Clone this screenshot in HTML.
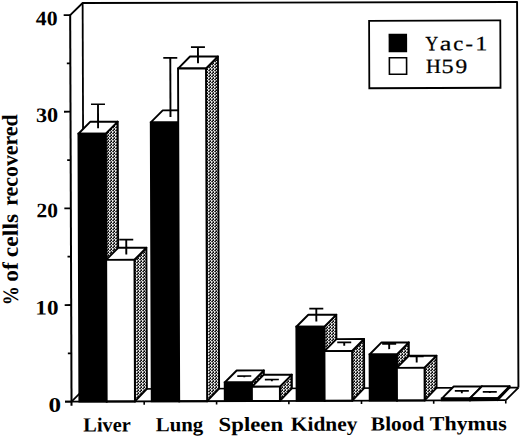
<!DOCTYPE html>
<html><head><meta charset="utf-8"><style>
html,body{margin:0;padding:0;background:#fff;}
svg{display:block;}
</style></head><body>
<svg width="520" height="437" viewBox="0 0 520 437">
<defs>
<pattern id="hatch" width="3" height="3" patternUnits="userSpaceOnUse" patternTransform="rotate(0.2 290 210)">
<rect x="0" y="0" width="1" height="1" fill="rgb(0,0,0)"/>
<rect x="1" y="0" width="1" height="1" fill="rgb(230,230,230)"/>
<rect x="2" y="0" width="1" height="1" fill="rgb(80,80,80)"/>
<rect x="0" y="1" width="1" height="1" fill="rgb(230,230,230)"/>
<rect x="1" y="1" width="1" height="1" fill="rgb(80,80,80)"/>
<rect x="2" y="1" width="1" height="1" fill="rgb(20,20,20)"/>
<rect x="0" y="2" width="1" height="1" fill="rgb(80,80,80)"/>
<rect x="1" y="2" width="1" height="1" fill="rgb(230,230,230)"/>
<rect x="2" y="2" width="1" height="1" fill="rgb(160,160,160)"/>
</pattern>
</defs>
<rect width="520" height="437" fill="#fff"/>
<g transform="rotate(-0.2 290 210)">
<path d="M70.85,14.30 L83.35,2.25 L517.80,2.80 L517.80,388.40" fill="none" stroke="#000" stroke-width="1.9" stroke-linejoin="round"/>
<line x1="83.35" y1="2.25" x2="83.35" y2="388.40" stroke="#000" stroke-width="1.8"/>
<line x1="83.35" y1="388.40" x2="517.80" y2="388.40" stroke="#000" stroke-width="1.6"/>
<line x1="70.85" y1="400.90" x2="83.35" y2="388.40" stroke="#000" stroke-width="1.8"/>
<line x1="505.10" y1="400.90" x2="517.80" y2="388.40" stroke="#000" stroke-width="1.8"/>
<path d="M106.02,133.00 L118.02,121.00 L118.02,388.40 L106.02,400.90 Z" fill="url(#hatch)" stroke="#000" stroke-width="1.9" stroke-linejoin="round"/>
<path d="M78.71,133.00 L90.71,121.00 L118.02,121.00 L106.02,133.00 Z" fill="#fff" stroke="#000" stroke-width="1.9" stroke-linejoin="round"/>
<rect x="78.71" y="133.00" width="27.31" height="267.90" fill="#000" stroke="#000" stroke-width="1.9"/>
<line x1="98.36" y1="103.58" x2="98.36" y2="127.70" stroke="#000" stroke-width="1.9"/>
<line x1="91.36" y1="103.58" x2="105.36" y2="103.58" stroke="#000" stroke-width="1.7"/>
<path d="M134.27,259.20 L146.27,247.20 L146.27,388.40 L134.27,400.90 Z" fill="url(#hatch)" stroke="#000" stroke-width="1.9" stroke-linejoin="round"/>
<path d="M106.02,259.20 L118.02,247.20 L146.27,247.20 L134.27,259.20 Z" fill="#fff" stroke="#000" stroke-width="1.9" stroke-linejoin="round"/>
<rect x="106.02" y="259.20" width="28.25" height="141.70" fill="#fff" stroke="#000" stroke-width="1.9"/>
<line x1="126.15" y1="239.10" x2="126.15" y2="253.90" stroke="#000" stroke-width="1.9"/>
<line x1="119.15" y1="239.10" x2="133.15" y2="239.10" stroke="#000" stroke-width="1.7"/>
<path d="M178.54,121.96 L190.54,109.96 L190.54,388.40 L178.54,400.90 Z" fill="url(#hatch)" stroke="#000" stroke-width="1.9" stroke-linejoin="round"/>
<path d="M151.08,121.96 L163.08,109.96 L190.54,109.96 L178.54,121.96 Z" fill="#fff" stroke="#000" stroke-width="1.9" stroke-linejoin="round"/>
<rect x="151.08" y="121.96" width="27.46" height="278.94" fill="#000" stroke="#000" stroke-width="1.9"/>
<line x1="170.81" y1="57.48" x2="170.81" y2="116.66" stroke="#000" stroke-width="1.9"/>
<line x1="163.81" y1="57.48" x2="177.81" y2="57.48" stroke="#000" stroke-width="1.7"/>
<path d="M206.48,68.16 L218.48,56.16 L218.48,388.40 L206.48,400.90 Z" fill="url(#hatch)" stroke="#000" stroke-width="1.9" stroke-linejoin="round"/>
<path d="M178.54,68.16 L190.54,56.16 L218.48,56.16 L206.48,68.16 Z" fill="#fff" stroke="#000" stroke-width="1.9" stroke-linejoin="round"/>
<rect x="178.54" y="68.16" width="27.94" height="332.74" fill="#fff" stroke="#000" stroke-width="1.9"/>
<line x1="198.51" y1="46.88" x2="198.51" y2="62.86" stroke="#000" stroke-width="1.9"/>
<line x1="191.51" y1="46.88" x2="205.51" y2="46.88" stroke="#000" stroke-width="1.7"/>
<path d="M251.28,382.27 L263.28,370.27 L263.28,388.40 L251.28,400.90 Z" fill="url(#hatch)" stroke="#000" stroke-width="1.9" stroke-linejoin="round"/>
<path d="M224.11,382.27 L236.11,370.27 L263.28,370.27 L251.28,382.27 Z" fill="#fff" stroke="#000" stroke-width="1.9" stroke-linejoin="round"/>
<rect x="224.11" y="382.27" width="27.17" height="18.63" fill="#000" stroke="#000" stroke-width="1.9"/>
<line x1="243.69" y1="375.84" x2="243.69" y2="376.97" stroke="#000" stroke-width="1.9"/>
<line x1="236.69" y1="375.84" x2="250.69" y2="375.84" stroke="#000" stroke-width="1.7"/>
<path d="M279.26,386.60 L291.26,374.60 L291.26,388.40 L279.26,400.90 Z" fill="url(#hatch)" stroke="#000" stroke-width="1.9" stroke-linejoin="round"/>
<path d="M251.28,386.60 L263.28,374.60 L291.26,374.60 L279.26,386.60 Z" fill="#fff" stroke="#000" stroke-width="1.9" stroke-linejoin="round"/>
<rect x="251.28" y="386.60" width="27.98" height="14.30" fill="#fff" stroke="#000" stroke-width="1.9"/>
<line x1="271.27" y1="379.44" x2="271.27" y2="381.30" stroke="#000" stroke-width="1.9"/>
<line x1="264.27" y1="379.44" x2="278.27" y2="379.44" stroke="#000" stroke-width="1.7"/>
<path d="M323.96,326.80 L335.96,314.80 L335.96,388.40 L323.96,400.90 Z" fill="url(#hatch)" stroke="#000" stroke-width="1.9" stroke-linejoin="round"/>
<path d="M295.95,326.80 L307.95,314.80 L335.96,314.80 L323.96,326.80 Z" fill="#fff" stroke="#000" stroke-width="1.9" stroke-linejoin="round"/>
<rect x="295.95" y="326.80" width="28.01" height="74.10" fill="#000" stroke="#000" stroke-width="1.9"/>
<line x1="315.95" y1="308.69" x2="315.95" y2="321.50" stroke="#000" stroke-width="1.9"/>
<line x1="308.95" y1="308.69" x2="322.95" y2="308.69" stroke="#000" stroke-width="1.7"/>
<path d="M351.59,351.25 L363.59,339.25 L363.59,388.40 L351.59,400.90 Z" fill="url(#hatch)" stroke="#000" stroke-width="1.9" stroke-linejoin="round"/>
<path d="M323.96,351.25 L335.96,339.25 L363.59,339.25 L351.59,351.25 Z" fill="#fff" stroke="#000" stroke-width="1.9" stroke-linejoin="round"/>
<rect x="323.96" y="351.25" width="27.63" height="49.65" fill="#fff" stroke="#000" stroke-width="1.9"/>
<line x1="343.77" y1="342.59" x2="343.77" y2="345.95" stroke="#000" stroke-width="1.9"/>
<line x1="336.77" y1="342.59" x2="350.77" y2="342.59" stroke="#000" stroke-width="1.7"/>
<path d="M396.34,354.77 L408.34,342.77 L408.34,388.40 L396.34,400.90 Z" fill="url(#hatch)" stroke="#000" stroke-width="1.9" stroke-linejoin="round"/>
<path d="M369.06,354.77 L381.06,342.77 L408.34,342.77 L396.34,354.77 Z" fill="#fff" stroke="#000" stroke-width="1.9" stroke-linejoin="round"/>
<rect x="369.06" y="354.77" width="27.28" height="46.13" fill="#000" stroke="#000" stroke-width="1.9"/>
<line x1="388.70" y1="344.15" x2="388.70" y2="349.47" stroke="#000" stroke-width="1.9"/>
<line x1="381.70" y1="344.15" x2="395.70" y2="344.15" stroke="#000" stroke-width="1.7"/>
<path d="M423.97,368.20 L435.97,356.20 L435.97,388.40 L423.97,400.90 Z" fill="url(#hatch)" stroke="#000" stroke-width="1.9" stroke-linejoin="round"/>
<path d="M396.34,368.20 L408.34,356.20 L435.97,356.20 L423.97,368.20 Z" fill="#fff" stroke="#000" stroke-width="1.9" stroke-linejoin="round"/>
<rect x="396.34" y="368.20" width="27.63" height="32.70" fill="#fff" stroke="#000" stroke-width="1.9"/>
<line x1="416.15" y1="356.94" x2="416.15" y2="362.90" stroke="#000" stroke-width="1.9"/>
<line x1="409.15" y1="356.94" x2="423.15" y2="356.94" stroke="#000" stroke-width="1.7"/>
<path d="M469.30,399.10 L481.30,387.10 L481.30,388.40 L469.30,400.90 Z" fill="url(#hatch)" stroke="#000" stroke-width="1.9" stroke-linejoin="round"/>
<path d="M441.09,399.10 L453.09,387.10 L481.30,387.10 L469.30,399.10 Z" fill="#fff" stroke="#000" stroke-width="1.9" stroke-linejoin="round"/>
<rect x="441.09" y="399.10" width="28.21" height="1.80" fill="#000" stroke="#000" stroke-width="1.9"/>
<line x1="461.19" y1="391.40" x2="461.19" y2="393.80" stroke="#000" stroke-width="1.9"/>
<line x1="454.19" y1="391.40" x2="468.19" y2="391.40" stroke="#000" stroke-width="1.7"/>
<path d="M497.00,398.90 L509.00,386.90 L509.00,388.40 L497.00,400.90 Z" fill="url(#hatch)" stroke="#000" stroke-width="1.9" stroke-linejoin="round"/>
<path d="M469.30,398.90 L481.30,386.90 L509.00,386.90 L497.00,398.90 Z" fill="#fff" stroke="#000" stroke-width="1.9" stroke-linejoin="round"/>
<rect x="469.30" y="398.90" width="27.70" height="2.00" fill="#fff" stroke="#000" stroke-width="1.9"/>
<line x1="489.15" y1="392.60" x2="489.15" y2="393.60" stroke="#000" stroke-width="1.9"/>
<line x1="482.15" y1="392.60" x2="496.15" y2="392.60" stroke="#000" stroke-width="1.7"/>
<line x1="70.85" y1="13.75" x2="70.85" y2="404.90" stroke="#000" stroke-width="2"/>
<line x1="64.35" y1="400.90" x2="505.10" y2="400.90" stroke="#000" stroke-width="1.8"/>
<line x1="143.53" y1="400.90" x2="143.53" y2="404.20" stroke="#000" stroke-width="1.6"/>
<line x1="215.93" y1="400.90" x2="215.93" y2="404.20" stroke="#000" stroke-width="1.6"/>
<line x1="288.20" y1="400.90" x2="288.20" y2="404.20" stroke="#000" stroke-width="1.6"/>
<line x1="360.83" y1="400.90" x2="360.83" y2="404.20" stroke="#000" stroke-width="1.6"/>
<line x1="433.03" y1="400.90" x2="433.03" y2="404.20" stroke="#000" stroke-width="1.6"/>
<line x1="505.10" y1="400.90" x2="505.10" y2="404.20" stroke="#000" stroke-width="1.6"/>
<line x1="64.35" y1="400.90" x2="70.85" y2="400.90" stroke="#000" stroke-width="1.8"/>
<line x1="67.35" y1="352.57" x2="70.85" y2="352.57" stroke="#000" stroke-width="1.8"/>
<line x1="64.35" y1="304.25" x2="70.85" y2="304.25" stroke="#000" stroke-width="1.8"/>
<line x1="67.35" y1="255.92" x2="70.85" y2="255.92" stroke="#000" stroke-width="1.8"/>
<line x1="64.35" y1="207.60" x2="70.85" y2="207.60" stroke="#000" stroke-width="1.8"/>
<line x1="67.35" y1="159.28" x2="70.85" y2="159.28" stroke="#000" stroke-width="1.8"/>
<line x1="64.35" y1="110.95" x2="70.85" y2="110.95" stroke="#000" stroke-width="1.8"/>
<line x1="67.35" y1="62.62" x2="70.85" y2="62.62" stroke="#000" stroke-width="1.8"/>
<line x1="64.35" y1="14.30" x2="70.85" y2="14.30" stroke="#000" stroke-width="1.8"/>
<rect x="369.75" y="21.2" width="131.2" height="67.3" fill="#fff" stroke="#000" stroke-width="1.8"/>
<rect x="389.2" y="34.2" width="18.5" height="18.5" fill="#000"/>
<rect x="389.9" y="58.1" width="17.2" height="16.5" fill="#fff" stroke="#000" stroke-width="1.6"/>
<text x="36.50" y="24.40" style="font-family:&quot;Liberation Serif&quot;,serif;font-size:20.50px;font-weight:bold;" textLength="21.78" lengthAdjust="spacingAndGlyphs">40</text>
<text x="36.30" y="121.00" style="font-family:&quot;Liberation Serif&quot;,serif;font-size:20.50px;font-weight:bold;" textLength="22.27" lengthAdjust="spacingAndGlyphs">30</text>
<text x="36.50" y="216.30" style="font-family:&quot;Liberation Serif&quot;,serif;font-size:20.50px;font-weight:bold;" textLength="21.44" lengthAdjust="spacingAndGlyphs">20</text>
<text x="35.00" y="313.60" style="font-family:&quot;Liberation Serif&quot;,serif;font-size:20.50px;font-weight:bold;" textLength="23.19" lengthAdjust="spacingAndGlyphs">10</text>
<text x="47.80" y="410.80" style="font-family:&quot;Liberation Serif&quot;,serif;font-size:20.50px;font-weight:bold;" textLength="12.58" lengthAdjust="spacingAndGlyphs">0</text>
<text x="82.60" y="430.87" style="font-family:&quot;Liberation Serif&quot;,serif;font-size:20.00px;font-weight:bold;" textLength="47.37" lengthAdjust="spacingAndGlyphs">Liver</text>
<text x="155.00" y="430.87" style="font-family:&quot;Liberation Serif&quot;,serif;font-size:20.00px;font-weight:bold;" textLength="47.50" lengthAdjust="spacingAndGlyphs">Lung</text>
<text x="217.80" y="430.87" style="font-family:&quot;Liberation Serif&quot;,serif;font-size:20.00px;font-weight:bold;" textLength="64.50" lengthAdjust="spacingAndGlyphs">Spleen</text>
<text x="290.00" y="430.87" style="font-family:&quot;Liberation Serif&quot;,serif;font-size:20.00px;font-weight:bold;" textLength="66.67" lengthAdjust="spacingAndGlyphs">Kidney</text>
<text x="370.10" y="430.87" style="font-family:&quot;Liberation Serif&quot;,serif;font-size:20.00px;font-weight:bold;" textLength="53.53" lengthAdjust="spacingAndGlyphs">Blood</text>
<text x="429.00" y="430.87" style="font-family:&quot;Liberation Serif&quot;,serif;font-size:20.00px;font-weight:bold;" textLength="76.91" lengthAdjust="spacingAndGlyphs">Thymus</text>
<text transform="translate(426.06,50.79) scale(0.8695,1)" style="font-family:&quot;Liberation Serif&quot;,serif;font-size:20.30px;" stroke="#000" stroke-width="0.345">Y</text>
<text transform="translate(440.23,50.84) scale(1.2969,1)" style="font-family:&quot;Liberation Serif&quot;,serif;font-size:20.30px;" stroke="#000" stroke-width="0.231">a</text>
<text transform="translate(453.69,50.89) scale(1.1166,1)" style="font-family:&quot;Liberation Serif&quot;,serif;font-size:20.30px;" stroke="#000" stroke-width="0.269">c</text>
<text transform="translate(466.03,50.93) scale(1.0999,1)" style="font-family:&quot;Liberation Serif&quot;,serif;font-size:20.30px;" stroke="#000" stroke-width="0.273">-</text>
<text transform="translate(475.71,50.97) scale(1.2034,1)" style="font-family:&quot;Liberation Serif&quot;,serif;font-size:20.30px;" stroke="#000" stroke-width="0.249">1</text>
<text transform="translate(426.58,73.60) scale(1.0163,1)" style="font-family:&quot;Liberation Serif&quot;,serif;font-size:20.30px;" stroke="#000" stroke-width="0.295">H</text>
<text transform="translate(442.06,73.65) scale(1.1984,1)" style="font-family:&quot;Liberation Serif&quot;,serif;font-size:20.30px;" stroke="#000" stroke-width="0.250">5</text>
<text transform="translate(456.02,73.70) scale(1.1543,1)" style="font-family:&quot;Liberation Serif&quot;,serif;font-size:20.30px;" stroke="#000" stroke-width="0.260">9</text>
<text transform="translate(17.60,304.30) rotate(-90)" x="0" y="0" style="font-family:&quot;Liberation Serif&quot;,serif;font-size:22.00px;font-weight:bold;" textLength="19.02" lengthAdjust="spacingAndGlyphs">%</text>
<text transform="translate(17.60,280.70) rotate(-90)" x="0" y="0" style="font-family:&quot;Liberation Serif&quot;,serif;font-size:22.00px;font-weight:bold;" textLength="19.60" lengthAdjust="spacingAndGlyphs">of</text>
<text transform="translate(17.60,256.20) rotate(-90)" x="0" y="0" style="font-family:&quot;Liberation Serif&quot;,serif;font-size:22.00px;font-weight:bold;" textLength="43.34" lengthAdjust="spacingAndGlyphs">cells</text>
<text transform="translate(17.60,204.80) rotate(-90)" x="0" y="0" style="font-family:&quot;Liberation Serif&quot;,serif;font-size:22.00px;font-weight:bold;" textLength="91.49" lengthAdjust="spacingAndGlyphs">recovered</text>
</g>
</svg>
</body></html>
